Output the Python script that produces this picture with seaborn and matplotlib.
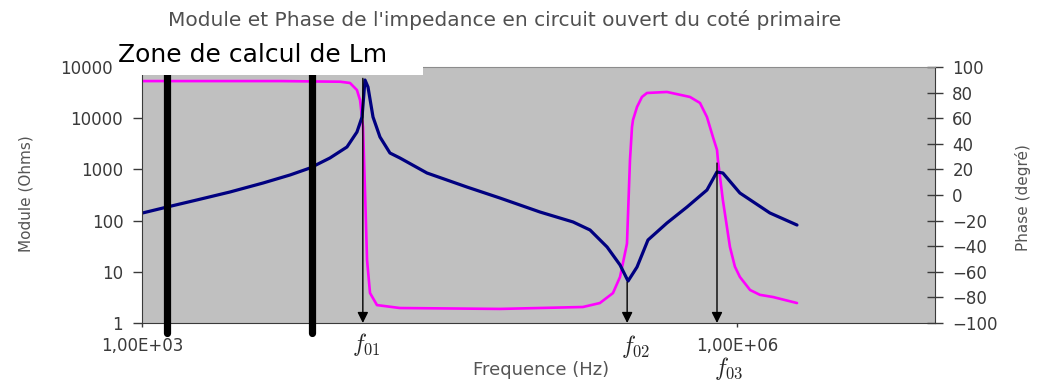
import matplotlib
matplotlib.use("Agg")
import matplotlib.pyplot as plt
import pandas as pd
import seaborn as sns
from matplotlib.patches import Rectangle

# Impedance modulus, open circuit, primary side
freq_module = [1000, 1337, 1892, 2778, 4078, 5580, 7036, 8870, 10810, 12140,
               12880, 13330, 13800, 14630, 15860, 17810, 20000, 27370, 43530, 63900,
               101800, 149400, 182000, 221800, 257800, 283000, 314000, 356600, 444600, 561000,
               707500, 794000, 851000, 1037000, 1469000, 2013000]
module_ohms = [140, 184, 253, 362, 542, 778, 1065, 1670, 2740, 5370,
               10550, 55700, 40700, 10550, 4300, 2090, 1670, 851, 453, 276,
               147, 94, 65.5, 30.5, 13.6, 6.6, 12.4, 41.8, 89.8, 184,
               396, 889, 851, 346, 141, 82]

# Impedance phase
freq_phase = [1000, 5000, 10000, 11200, 12140, 12590, 13030, 13340, 13650, 14130,
              15320, 20000, 63900, 167500, 204000, 237500, 257800, 279400, 289300, 296200,
              299700, 314000, 332600, 352600, 444600, 580800, 652500, 707500, 758400, 795200,
              803600, 851000, 924000, 979000, 1037000, 1167000, 1309000, 1523000, 2013000]
phase_deg = [89, 89, 88.5, 87.5, 82, 74, 53, 1.6, -50.8, -76.6,
             -86, -88.3, -89, -87.5, -84.4, -76.6, -64, -38, 27, 53.1,
             58.6, 68.8, 76.6, 79.7, 80.5, 76.6, 71.9, 60.9, 45.3, 35.2,
             27.3, -3.9, -40.6, -56, -64, -74.2, -78, -79.7, -84.4]

# Resonance frequencies and the zone used to compute Lm
resonance_freqs = [13000, 280000, 795000]
resonance_tops = [60000, 6.3, 1330]
resonance_labels = [r"$f_{01}$", r"$f_{02}$", r"$f_{03}$"]
zone_bounds = [1340, 7200]

module_ticks = [1, 10, 100, 1000, 10000, 100000]
module_tick_labels = ["1", "10", "100", "1000", "10000", "100000"]
phase_ticks = list(range(-100, 101, 20))
freq_ticks = [1e3, 1e6]
freq_tick_labels = ["1,00E+03", "1,00E+06"]

df_mod = pd.DataFrame({"f": freq_module, "Z": module_ohms})
df_ph = pd.DataFrame({"f": freq_phase, "phi": phase_deg})

sns.set_style("ticks")
plt.rcParams["font.family"] = ["DejaVu Sans"]

W, H = 1043, 385
fig = plt.figure(figsize=(W / 100, H / 100), dpi=100)
fig.patch.set_facecolor("white")

left, right, top, bottom = 142, 935, 67, 323
rect = [left / W, 1 - bottom / H, (right - left) / W, (bottom - top) / H]
ax_ph = fig.add_axes(rect)              # phase axis (underneath, carries the background)
ax = fig.add_axes(rect, sharex=ax_ph)   # modulus axis (on top)
ax_ph.set_facecolor("#c0c0c0")
ax.patch.set_visible(False)

tick_col = "#3a3a3a"
label_col = "#555555"
tick_size = 12

# Phase curve
sns.lineplot(data=df_ph, x="f", y="phi", ax=ax_ph, color="#ff00ff", linewidth=1.9,
             estimator=None, sort=False)
ax_ph.set_xscale("log")
ax_ph.set_xlim(1e3, 1e7)
ax_ph.set_ylim(-100, 100)
ax_ph.yaxis.tick_right()
ax_ph.yaxis.set_label_position("right")
ax_ph.set_yticks(phase_ticks)
ax_ph.tick_params(axis="y", direction="inout", length=11, width=1, colors=tick_col,
                  labelsize=tick_size, pad=7, labelcolor=tick_col)
ax_ph.set_ylabel("Phase (degré)", fontsize=11, color=label_col)
ax_ph.yaxis.set_label_coords((1015 - left) / (right - left), (bottom - 198) / (bottom - top))
ax_ph.set_xlabel("")
for s in ["left", "bottom"]:
    ax_ph.spines[s].set_visible(False)
ax_ph.spines["top"].set_color("#8c8c8c")
ax_ph.spines["right"].set_color(tick_col)
ax_ph.tick_params(axis="x", bottom=False, labelbottom=False, which="both")

# Modulus curve
sns.lineplot(data=df_mod, x="f", y="Z", ax=ax, color="#000080", linewidth=2.3,
             estimator=None, sort=False)
ax.set_xscale("log")
ax.set_yscale("log")
ax.set_xlim(1e3, 1e7)
ax.set_ylim(1, 1e5)
ax.set_yticks(module_ticks)
ax.set_yticklabels(module_tick_labels)
ax.yaxis.set_minor_locator(matplotlib.ticker.NullLocator())
ax.set_xticks(freq_ticks)
ax.set_xticklabels(freq_tick_labels)
ax.xaxis.set_minor_locator(matplotlib.ticker.NullLocator())
ax.tick_params(axis="y", direction="out", length=6.5, width=1, colors=tick_col,
               labelsize=tick_size, pad=7, labelcolor=tick_col)
ax.tick_params(axis="x", direction="out", length=3, width=1, colors=tick_col,
               labelsize=tick_size, pad=7, labelcolor=tick_col)
ax.set_ylabel("Module (Ohms)", fontsize=11, color=label_col)
ax.yaxis.set_label_coords((33 - left) / (right - left), (bottom - 194) / (bottom - top))
ax.set_xlabel("Frequence (Hz)", fontsize=13, color=label_col)
ax.xaxis.set_label_coords((541 - left) / (right - left), (bottom - 361) / (bottom - top))
for s in ["top", "right"]:
    ax.spines[s].set_visible(False)
ax.spines["left"].set_color(tick_col)
ax.spines["bottom"].set_color(tick_col)

# Zone boundaries (thick black verticals)
for fz in zone_bounds:
    ax.plot([fz, fz], [0.63, 1e5], color="black", linewidth=5.2,
            solid_capstyle="round", clip_on=False, zorder=5)

# Resonance arrows and labels
label_offsets = [(4, -22), (9, -23), (12, -46)]
for fr, ztop, lab, (dx, dy) in zip(resonance_freqs, resonance_tops, resonance_labels, label_offsets):
    ax.annotate("", xy=(fr, 1), xytext=(fr, ztop),
                arrowprops=dict(arrowstyle="-|>", color="black", lw=1,
                                mutation_scale=16, shrinkA=0, shrinkB=0),
                zorder=6)
    ax.annotate(lab, xy=(fr, 1), xytext=(dx, dy), textcoords="offset pixels",
                ha="center", va="center", fontsize=17, math_fontfamily="cm",
                annotation_clip=False)

# Title
fig.text(505 / W, 1 - 20 / H,
         "Module et Phase de l'impedance en circuit ouvert du coté primaire",
         ha="center", va="center", fontsize=14.5, color="#505050")

# White label box for the Lm zone
fig.patches.append(Rectangle((112 / W, 1 - 75 / H), 311 / W, 33 / H,
                             transform=fig.transFigure, facecolor="white",
                             edgecolor="none", zorder=10))
fig.text(118 / W, 1 - 62 / H, "Zone de calcul de Lm", ha="left", va="baseline",
         fontsize=18, color="black", zorder=11)

fig.savefig("out.png", dpi=100, facecolor="white")
